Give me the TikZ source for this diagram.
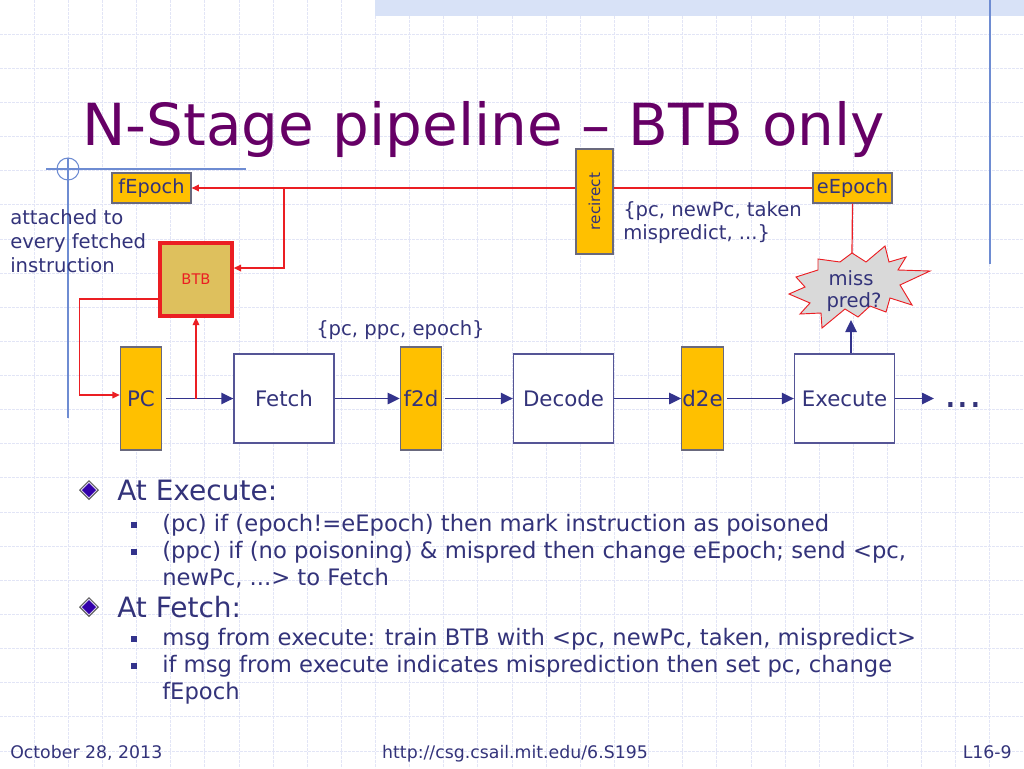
\documentclass[tikz,border=0pt]{standalone}
\usepackage{fontspec}
\setmainfont{DejaVu Sans}
\usetikzlibrary{arrows.meta}
\definecolor{titlec}{RGB}{102,0,102}
\definecolor{txtc}{RGB}{51,51,122}
\definecolor{arrc}{RGB}{51,51,140}
\definecolor{boxc}{RGB}{85,85,150}
\definecolor{goldc}{RGB}{255,192,0}
\definecolor{goldb}{RGB}{105,105,125}
\definecolor{btbc}{RGB}{222,192,93}
\definecolor{redc}{RGB}{235,30,35}
\definecolor{gridc}{RGB}{226,229,246}
\definecolor{bandc}{RGB}{216,226,247}
\definecolor{decoc}{RGB}{110,140,210}
\definecolor{burstc}{RGB}{217,217,217}
\definecolor{gemc}{RGB}{51,0,170}
\begin{document}
\begin{tikzpicture}[x=0.75pt,y=-0.75pt,
  stage/.style={draw=boxc, line width=1pt, fill=white, minimum width=75pt, minimum height=66.75pt, inner sep=0pt, text=txtc, font=\fontsize{16}{19}\selectfont, text height=11.7pt, text depth=0pt},
  latch/.style={draw=goldb, line width=0.9pt, fill=goldc, minimum width=31pt, minimum height=77.25pt, inner sep=0pt, text=txtc, font=\fontsize{16}{19}\selectfont, text height=11.7pt, text depth=0pt},
  epochbox/.style={draw=goldb, line width=0.9pt, fill=goldc, minimum width=59.25pt, minimum height=22.5pt, inner sep=0pt, text=txtc, font=\fontsize{14.5}{17}\selectfont},
  barrow/.style={draw=arrc, line width=1.1pt, -{Triangle[length=9pt,width=8.5pt]}},
  rline/.style={draw=redc, line width=0.9pt},
  rarrow/.style={rline, -{Triangle[length=5.5pt,width=5pt]}},
  lbl/.style={text=txtc, inner sep=0pt, anchor=base west, font=\fontsize{14.7}{17}\selectfont},
  lvone/.style={lbl, font=\fontsize{21}{24}\selectfont},
  lvtwo/.style={lbl, font=\fontsize{17}{20}\selectfont},
  foot/.style={lbl, font=\fontsize{13}{15}\selectfont},
  gridline/.style={draw=gridc, line width=0.6pt, dash pattern=on 2pt off 1pt},
  deco/.style={draw=decoc, line width=0.8pt},
]
\useasboundingbox (0,0) rectangle (1024,768);
\fill[white] (0,0) rectangle (1024,768);
% grid
\foreach \i in {1,...,29} \draw[gridline] (34.133*\i,0) -- (34.133*\i,768);
\foreach \j in {1,...,22} \draw[gridline] (0,34.133*\j) -- (1024,34.133*\j);
% top band and decoration lines
\fill[bandc] (375,0) rectangle (1024,16);
\draw[deco] (990,0) -- (990,264);
\draw[deco] (46,169) -- (246,169);
\draw[deco] (68,158) -- (68,418);
\draw[deco] (68,169) circle[radius=8.25pt];
% title
\node[text=titlec, anchor=base west, inner sep=0pt, font=\fontsize{43.5}{50}\selectfont] (title) at (82,145) {N-Stage pipeline – BTB only};
% pipeline
\node[latch] (PC) at (141,398.5) {PC};
\node[stage] (Fetch) at (284,398.5) {Fetch};
\node[latch] (f2d) at (421,398.5) {f2d};
\node[stage] (Decode) at (563.5,398.5) {Decode};
\node[latch] (d2e) at (702.5,398.5) {d2e};
\node[stage] (Execute) at (844.5,398.5) {Execute};
\node[lbl, font=\fontsize{30}{32}\selectfont] (dots) at (944,407) {...};
\coordinate (dotsin) at (934,398.5);
% epochs and BTB
\node[epochbox] (fEpoch) at (151.5,188) {fEpoch};
\node[epochbox] (eEpoch) at (852.5,188) {eEpoch};
\node[draw=redc, line width=2.6pt, fill=btbc, minimum width=54pt, minimum height=54.75pt, inner sep=0pt, text=redc, font=\fontsize{11}{13}\selectfont] (BTB) at (196,279.5) {BTB};
% labels
\node[lbl] (att1) at (10,224) {attached to};
\node[lbl] (att2) at (10,248) {every fetched};
\node[lbl] (att3) at (10,272) {instruction};
\node[lbl] (ppc) at (316,335) {\{pc, ppc, epoch\}};
\node[lbl] (msg1) at (623,216) {\{pc, newPc, taken};
\node[lbl] (msg2) at (623,239) {mispredict, ...\}};
% starburst
\draw[draw=redc, line width=0.7pt, fill=burstc]
  (852,253) -- (866,262) -- (885,246) -- (889,262) -- (906,257) -- (898,270) --
  (930,271) -- (900,285) -- (912,305) -- (890,298) -- (886,312) -- (870,306) --
  (858,317) -- (845,309) -- (822,328) -- (821,313) -- (800,314) -- (810,303) --
  (789,294) -- (805,287) -- (796,277) -- (818,270) -- (818,259) -- (840,262) -- cycle;
\coordinate (mptop) at (852,253);
\coordinate (mp) at (851,320);
\node[lbl, anchor=base] (miss) at (851,285) {miss};
\node[lbl, anchor=base] (pred) at (854,307) {pred?};
% blue connectors
\draw[barrow, shorten <=3pt] (PC.east) -- (Fetch.west);
\draw[barrow] (Fetch.east) -- (f2d.west);
\draw[barrow, shorten <=2.25pt] (f2d.east) -- (Decode.west);
\draw[barrow] (Decode.east) -- (d2e.west);
\draw[barrow, shorten <=2.25pt] (d2e.east) -- (Execute.west);
\draw[barrow] (Execute.east) -- (dotsin);
\draw[barrow] (Execute.north -| mp) -- (mp);
% red connectors
\draw[rarrow] (eEpoch.west) -- (fEpoch.east);
\draw[rarrow] (Fetch.north |- fEpoch.east) |- ([yshift=8.6pt]BTB.east);
\draw[rarrow] ([yshift=-14.6pt]BTB.west) -| ([xshift=-30pt,yshift=2.6pt]PC.west) -- ([yshift=2.6pt]PC.west);
\draw[rarrow] (BTB.south |- PC.east) -- (BTB.south);
\draw[rline] (eEpoch.south) -- (mptop);
\node[draw=goldb, line width=0.9pt, fill=goldc, rotate=90, minimum width=78.75pt, minimum height=27.75pt, inner sep=0pt, text=txtc, font=\fontsize{11.4}{13}\selectfont] (recirect) at (594.5,201.5) {recirect};
% bullets
\foreach \y in {490,607} {
  \fill[black!65] (89,\y-10) -- (99,\y) -- (89,\y+10) -- (79,\y) -- cycle;
  \fill[white!85!gemc] (89,\y-8.3) -- (97.3,\y) -- (89,\y+8.3) -- (80.7,\y) -- cycle;
  \fill[gemc] (89,\y-7) -- (96,\y) -- (89,\y+7) -- (82,\y) -- cycle;
}
\foreach \y in {525,552,639,666} \fill[arrc] (131,\y-3) rectangle (137,\y+3);
\node[lvone] (b1) at (117,500) {At Execute:};
\node[lvtwo] (b11) at (162,531) {(pc) if (epoch!=eEpoch) then mark instruction as poisoned};
\node[lvtwo] (b12) at (162,558) {(ppc) if (no poisoning) \& mispred then change eEpoch; send <pc,};
\node[lvtwo] (b12b) at (162,585) {newPc, ...> to Fetch};
\node[lvone] (b2) at (117,617) {At Fetch:};
\node[lvtwo] (b21) at (162,645) {msg from execute: train BTB with <pc, newPc, taken, mispredict>};
\node[lvtwo] (b22) at (162,672) {if msg from execute indicates misprediction then set pc, change};
\node[lvtwo] (b22b) at (162,699) {fEpoch};
% footer
\node[foot] (date) at (10,758) {October 28, 2013};
\node[foot, anchor=base] (url) at (515,758) {http://csg.csail.mit.edu/6.S195};
\node[foot, anchor=base east] (page) at (1012,758) {L16-9};
\end{tikzpicture}
\end{document}
